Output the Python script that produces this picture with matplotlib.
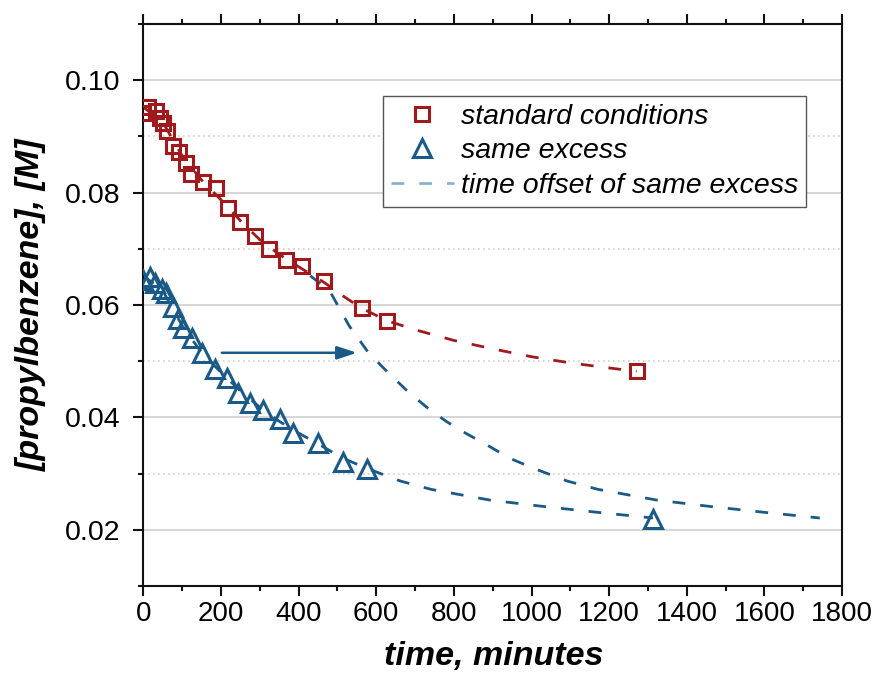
import matplotlib
matplotlib.use("Agg")
import matplotlib.pyplot as plt
from matplotlib.lines import Line2D
from matplotlib.ticker import MultipleLocator, FormatStrFormatter

plt.rcParams['font.family'] = ['Liberation Sans', 'DejaVu Sans']

# ---- data ----
red_t = [0, 12, 32, 43, 51, 61, 77, 92, 110, 122, 154, 187, 217, 249, 287, 324, 367, 408, 466, 563, 628, 1271]
red_c = [0.0941, 0.0952, 0.0946, 0.0932, 0.0924, 0.0910, 0.0883, 0.0873, 0.0852, 0.0833, 0.0819, 0.0808,
         0.0772, 0.0748, 0.0722, 0.0700, 0.0680, 0.0669, 0.0643, 0.0594, 0.0572, 0.0482]

blue_t = [0, 17, 30, 47, 58, 75, 90, 103, 124, 150, 184, 214, 244, 275, 309, 352, 386, 451, 515, 577, 1313]
blue_c = [0.0644, 0.0649, 0.0639, 0.0628, 0.0621, 0.0597, 0.0576, 0.0559, 0.0541, 0.0514, 0.0487, 0.0470,
          0.0443, 0.0425, 0.0413, 0.0398, 0.0372, 0.0355, 0.0321, 0.0309, 0.0220]

red_fit_t = [0, 50, 100, 150, 200, 250, 300, 350, 400, 466, 510, 563, 628, 700, 800, 900, 1000, 1100, 1200, 1271]
red_fit_c = [0.0952, 0.0925, 0.0865, 0.0822, 0.0787, 0.0750, 0.0716, 0.0690, 0.0668, 0.0640, 0.0618, 0.0594,
             0.0572, 0.0556, 0.0537, 0.0522, 0.0508, 0.0497, 0.0488, 0.0482]

blue_fit_t = [0, 50, 100, 150, 200, 250, 300, 350, 400, 450, 515, 577, 661, 741, 892, 1025, 1158, 1313]
blue_fit_c = [0.0652, 0.0625, 0.0563, 0.0515, 0.0480, 0.0447, 0.0418, 0.0393, 0.0372, 0.0353, 0.0327, 0.0309,
              0.0287, 0.0272, 0.0253, 0.0242, 0.0232, 0.0221]

time_offset = 430  # minutes
arrow_t = [202, 550]
arrow_c = 0.0515

labels = ['standard conditions', 'same excess', 'time offset of same excess']

red = '#A0191C'
blue = '#1B5A87'
light_blue = '#8AB2D0'

fig = plt.figure(figsize=(8.77, 6.94), dpi=100)
ax = fig.add_axes([0.1636, 0.1556, 0.7964, 0.8098])

dash = (4.6, 5.4)
ax.plot(red_fit_t, red_fit_c, color=red, lw=2.0, dashes=dash, zorder=2)
ax.plot(blue_fit_t, blue_fit_c, color=blue, lw=2.0, dashes=dash, zorder=2)
ax.plot([t + time_offset for t in blue_fit_t], blue_fit_c, color=blue, lw=2.0, dashes=dash, zorder=2)

ax.plot(red_t, red_c, ls='none', marker='s', ms=10.5, mfc='none', mec=red, mew=2.2, zorder=3)
ax.plot(blue_t, blue_c, ls='none', marker='^', ms=13.5, mfc='none', mec=blue, mew=2.2, zorder=3)

ax.annotate('', xy=(arrow_t[1], arrow_c), xytext=(arrow_t[0], arrow_c),
            arrowprops=dict(arrowstyle='-|>,head_length=0.6,head_width=0.2', color=blue, lw=1.8,
                            mutation_scale=20, shrinkA=0, shrinkB=0), zorder=4)

ax.set_xlim(0, 1800)
ax.set_ylim(0.01, 0.11)
ax.xaxis.set_major_locator(MultipleLocator(200))
ax.xaxis.set_minor_locator(MultipleLocator(100))
ax.yaxis.set_minor_locator(MultipleLocator(0.01))
ax.set_yticks([0.02, 0.04, 0.06, 0.08, 0.10])
ax.yaxis.set_major_formatter(FormatStrFormatter('%.2f'))

ax.yaxis.grid(True, which='major', color='#CFCFCF', lw=1.2)
ax.yaxis.grid(True, which='minor', color='#CFCFCF', lw=1.2, ls=(0, (1, 2)))
ax.set_axisbelow(True)

for s in ax.spines.values():
    s.set_linewidth(1.5)
    s.set_color('#111111')

ax.tick_params(axis='both', which='major', direction='out', length=7.5, width=1.5, color='#111111')
ax.tick_params(axis='both', which='minor', direction='out', length=3.8, width=1.5, color='#111111')
ax.tick_params(axis='x', which='both', top=True, labeltop=False)
ax.tick_params(axis='y', which='both', right=False)
ax.tick_params(axis='x', which='major', pad=3)
ax.tick_params(axis='y', which='major', labelsize=20.5, pad=9)
for lab in ax.get_xticklabels():
    lab.set_fontfamily(['Liberation Sans Narrow', 'Liberation Sans'])
    lab.set_fontsize(20)

ax.set_xlabel('time, minutes', fontsize=24.5, fontweight='bold', fontstyle='italic')
ax.set_ylabel('[propylbenzene], [M]', fontsize=24.5, fontweight='bold', fontstyle='italic')
ax.xaxis.set_label_coords(0.502, -0.097)
ax.yaxis.set_label_coords(-0.138, 0.5)

handles = [
    Line2D([], [], ls='none', marker='s', ms=9.5, mfc='none', mec=red, mew=2.2),
    Line2D([], [], ls='none', marker='^', ms=12.5, mfc='none', mec=blue, mew=2.2),
    Line2D([], [], color=light_blue, lw=2.0, dashes=dash),
]
leg = ax.legend(handles, labels, loc='upper left', bbox_to_anchor=(0.343, 0.872),
                prop={'size': 20.5, 'style': 'italic'}, frameon=True, fancybox=False,
                edgecolor='#555555', framealpha=1, borderpad=0.28, handlelength=2.2,
                handletextpad=0.25, labelspacing=0.3, borderaxespad=0)
leg.get_frame().set_linewidth(1.0)

fig.savefig('out.png', dpi=100)
